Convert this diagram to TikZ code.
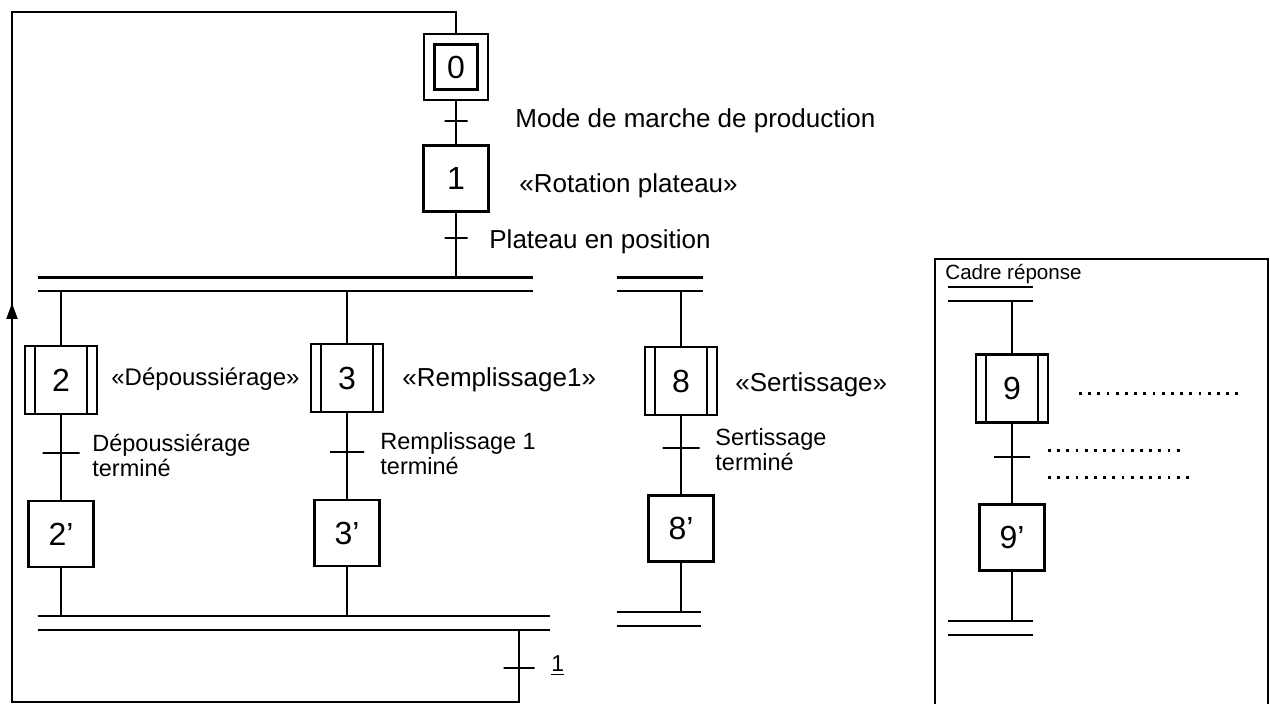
\documentclass[tikz,border=0pt]{standalone}
\usepackage{fontspec}
\setmainfont{Liberation Sans}
\usepackage{tikz}
\usetikzlibrary{arrows.meta}
\tikzset{
  liaison/.style={draw, line width=1.1pt},
  etape/.style={
    rectangle, draw, line width=1.1pt,
    minimum width=32.5pt, minimum height=33pt, inner sep=0pt,
    font=\fontsize{16}{16}\selectfont
  },
  etapeinit/.style={
    etape, double, double distance=4.1pt, outer sep=3.1pt,
    minimum width=26.75pt, minimum height=27.75pt
  },
  macroetape/.style={
    etape, minimum width=36pt, minimum height=34pt,
    path picture={
      \draw[line width=1pt]
        ([xshift=5pt]path picture bounding box.north west) -- ([xshift=5pt]path picture bounding box.south west)
        ([xshift=-5pt]path picture bounding box.north east) -- ([xshift=-5pt]path picture bounding box.south east);
    }
  },
  trans/.style={
    rectangle, draw, line width=1.1pt,
    minimum width=#1, minimum height=0pt, inner sep=0pt
  },
  trans/.default=17pt,
  simult/.style={
    minimum width=#1, minimum height=6.5pt, inner sep=0pt,
    append after command={
      (\tikzlastnode.north west) edge[liaison] (\tikzlastnode.north east)
      (\tikzlastnode.south west) edge[liaison] (\tikzlastnode.south east)
    }
  },
  action/.style={anchor=base west, inner sep=0pt, font=\fontsize{13}{15}\selectfont},
  recept/.style={anchor=west, inner sep=0pt, align=left, font=\fontsize{11.75}{12.5}\selectfont},
  fleche/.style={line width=1.1pt, -{Triangle[length=8pt,width=5.5pt]}},
  pointilles/.style={line width=1.5pt, dash pattern=on 1.4pt off 3.2pt},
}
\begin{document}
\begin{tikzpicture}[x=0.5pt, y=-0.5pt]
  \useasboundingbox (0,0) rectangle (1270,704);

  \node (e0)    [etapeinit]       at (456,67)    {0};
  \node (t0)    [trans=11.5pt]    at (456,121)   {};
  \node (e1)    [etape]           at (456,178.5) {1};
  \node (t1)    [trans=11.5pt]    at (456,238)   {};
  \node (div1)  [simult=247.5pt]  at (285.5,284.5) {};
  \node (div2)  [simult=43pt]     at (660,284.5) {};

  \node (e2)    [macroetape]      at (61,380)    {2};
  \node (t2)    [trans=18.5pt]    at (61,453)    {};
  \node (e2b)   [etape]           at (61,534)    {2'};
  \node (e3)    [macroetape]      at (347,378)   {3};
  \node (t3)    [trans=17pt]      at (347,452)   {};
  \node (e3b)   [etape]           at (347,533)   {3'};
  \node (e8)    [macroetape]      at (681,381)   {8};
  \node (t8)    [trans=18.5pt]    at (681,448)   {};
  \node (e8b)   [etape]           at (681,528.5) {8'};

  \node (conv1) [simult=256pt]    at (294,623)   {};
  \node (conv2) [simult=42pt]     at (659,619)   {};
  \node (tl)    [trans=15.5pt]    at (519,668)   {};

  \node (a0)  [action] at (515,128) {Mode de marche de production};
  \node (a1)  [action] at (519,193) {«Rotation plateau»};
  \node (r1)  [action] at (489,249) {Plateau en position};
  \node (a2)  [action, font=\fontsize{12}{14}\selectfont] at (111,386) {«Dépoussiérage»};
  \node (r2)  [recept] at (92,455)  {Dépoussiérage\\terminé};
  \node (a3)  [action] at (402,387) {«Remplissage1»};
  \node (r3)  [recept] at (380,454) {Remplissage 1\\terminé};
  \node (a8)  [action] at (735,392) {«Sertissage»};
  \node (r8)  [recept] at (715,450) {Sertissage\\terminé};
  \node (rl)  [action, font=\fontsize{11.5}{13}\selectfont] at (551,672) {\underline{1}};

  \coordinate (cbd) at (519,702);
  \coordinate (cbg) at (12,702);
  \coordinate (cfl) at (12,303);
  \coordinate (chg) at (12,12);
  \coordinate (chd) at (456,12);

  \draw [liaison] (e0) -- (t0) -- (e1);
  \draw [liaison] (e1) -- (t1) -- (e1 |- div1.north);
  \draw [liaison] (div1.south -| e2) -- (e2);
  \draw [liaison] (div1.south -| e3) -- (e3);
  \draw [liaison] (div2.south -| e8) -- (e8);
  \draw [liaison] (e2) -- (t2) -- (e2b) -- (e2b |- conv1.north);
  \draw [liaison] (e3) -- (t3) -- (e3b) -- (e3b |- conv1.north);
  \draw [liaison] (e8) -- (t8) -- (e8b) -- (e8b |- conv2.north);
  \draw [liaison] (conv1.south -| tl) -- (tl) -- (cbd) -- (cbg) -- (chg) -- (chd) -- (e0);
  \draw [fleche] (cbg) -- (cfl);

  \draw [liaison] (935,704) -- (935,259) -- (1268,259) -- (1268,704);
  \node (cadre) [anchor=base west, inner sep=0pt, font=\fontsize{10.3}{12}\selectfont] at (945,280) {Cadre réponse};
  \node (div9)  [simult=42.5pt] at (990.5,294)  {};
  \node (e9)    [macroetape]    at (1012,388.5) {9};
  \node (t9)    [trans=18pt]    at (1012,457)   {};
  \node (e9b)   [etape]         at (1012,537.5) {9'};
  \node (conv9) [simult=42.5pt] at (990.5,628)  {};

  \draw [liaison] (div9.south -| e9) -- (e9);
  \draw [liaison] (e9) -- (t9) -- (e9b) -- (e9b |- conv9.north);
  \draw [pointilles] (1079,394) -- (1240,394);
  \draw [pointilles] (1048,451) -- (1185,451);
  \draw [pointilles] (1048,478) -- (1192,478);
\end{tikzpicture}
\end{document}
